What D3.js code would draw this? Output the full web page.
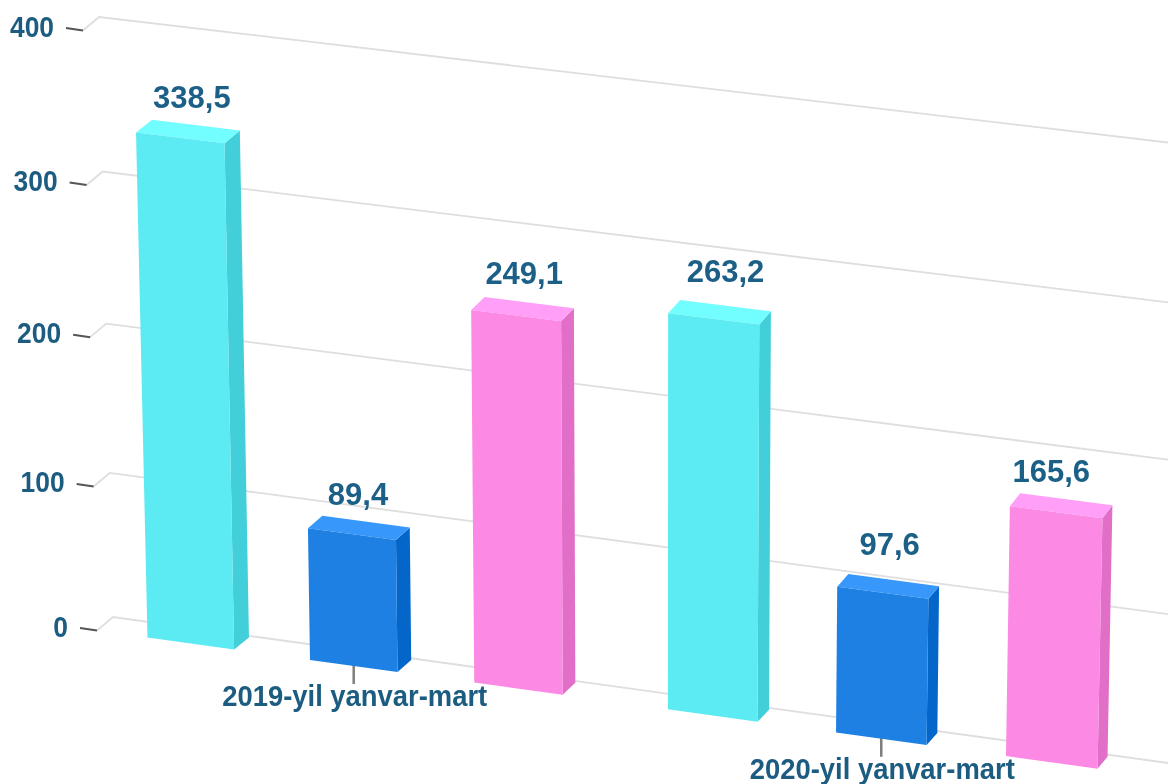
<!DOCTYPE html>
<html><head><meta charset="utf-8">
<script src="https://cdn.jsdelivr.net/npm/d3@7"></script>
<style>html,body{margin:0;padding:0;background:#fff;overflow:hidden}svg{display:block;filter:blur(0.6px)}text{font-family:"Liberation Sans",Arial,sans-serif;font-weight:700}</style>
</head><body><svg id="c" width="1168" height="784"></svg>
<script>
const periods = ["2019-yil yanvar-mart", "2020-yil yanvar-mart"];
const seriesKeys = ["a", "b", "c"];
const valuesA = [338.5, 263.2];
const valuesB = [89.4, 97.6];
const valuesC = [249.1, 165.6];
const tickValues = [0, 100, 200, 300, 400];
const seriesValues = {a: valuesA, b: valuesB, c: valuesC};
const palette = {
  a: {front: "#5CEAF3", side: "#43CFDA", top: "#72FDFF"},
  b: {front: "#1E80E2", side: "#0566CA", top: "#3797FB"},
  c: {front: "#FC8AE4", side: "#E16FC8", top: "#FF9FF8"}
};
// hand placement of the value labels relative to their bars (layout only)
const labelNudge = {a: [[0,0],[4,-7]], b: [[-4,0],[0,-8]], c: [[-1,-2],[-11,0]]};

// projective map of the unit square onto a quad: p00,p10,p01,p11
function homography(p00, p10, p01, p11) {
  const dx1 = p10[0]-p11[0], dx2 = p01[0]-p11[0], sx = p00[0]-p10[0]+p11[0]-p01[0];
  const dy1 = p10[1]-p11[1], dy2 = p01[1]-p11[1], sy = p00[1]-p10[1]+p11[1]-p01[1];
  const den = dx1*dy2-dx2*dy1;
  const g = (sx*dy2-dx2*sy)/den, h = (dx1*sy-sx*dy1)/den;
  const a = p10[0]-p00[0]+g*p10[0], b = p01[0]-p00[0]+h*p01[0], c = p00[0];
  const d = p10[1]-p00[1]+g*p10[1], e = p01[1]-p00[1]+h*p01[1], f = p00[1];
  return (u, t) => { const w = g*u+h*t+1; return [(a*u+b*t+c)/w, (d*u+e*t+f)/w]; };
}

const wall  = homography([113,617],[1168,763],[99,17],[1172,143]);
const front = homography([147.5,637.5],[1100,769],[133.9,38.4],[1112.1,154.3]);
const back  = homography([163,625.5],[1110,757],[150,25.5],[1122,140]);

const yWall = d3.scalePow().exponent(1.02).domain([0,400]).range([0,1]);
const yBar = d3.scaleLinear().domain([0,400]).range([0,1]);
const x0 = d3.scaleBand().domain(periods).range([0,0.9975]).paddingInner(0.1995);
const x1 = d3.scaleBand().domain(seriesKeys).range([0,x0.bandwidth()]).paddingInner(0.4657);
const fmt = d3.formatLocale({decimal:",",thousands:"",grouping:[3],currency:["",""]}).format(".1f");
const line = d3.line();
const svg = d3.select("#c");
const textColor = "#1C6087";

function label(sel, xx, yy, txt, size, sx, anchor, color) {
  sel.append("text").attr("transform",`translate(${xx},${yy}) scale(${sx},1)`)
    .attr("text-anchor",anchor).attr("font-size",size).attr("fill",color||textColor).text(txt);
}

// wall grid, side edge and ticks
const gAxis = svg.append("g");
tickValues.forEach(v => {
  const t = yWall(v), a = wall(0,t), b = wall(1,t);
  const c = [a[0]-16, a[1]+13.5], d = [c[0]-17, c[1]-2.5];
  gAxis.append("path").attr("d",line([c,a,b])).attr("fill","none").attr("stroke","#DEDEDE").attr("stroke-width",1.8);
  gAxis.append("path").attr("d",line([d,c])).attr("fill","none").attr("stroke","#555").attr("stroke-width",2);
  label(gAxis, d[0]-12, d[1]+8.5, String(v), 30, 0.88, "end", "#1B5C80");
});

// category ticks and labels
const gCat = svg.append("g");
periods.forEach(p => {
  const u = x0(p)+x0.bandwidth()/2, b = front(u,0);
  gCat.append("line").attr("x1",b[0]).attr("x2",b[0]).attr("y1",b[1]-6).attr("y2",b[1]+18).attr("stroke","#7E7E7E").attr("stroke-width",2.5);
  label(gCat, b[0]+1, b[1]+40, p, 29, 0.945, "middle", "#1B5C80");
});

// bars
const gBars = svg.append("g");
periods.forEach((p,i) => seriesKeys.forEach(k => {
  const v = seriesValues[k][i], u0 = x0(p)+x1(k), u1 = u0+x1.bandwidth(), t = yBar(v), col = palette[k];
  const poly = (pts,fill) => gBars.append("path").attr("d",line(pts)+"Z").attr("fill",fill);
  poly([front(u1,0),back(u1,0),back(u1,t),front(u1,t)],col.side);
  poly([front(u0,t),back(u0,t),back(u1,t),front(u1,t)],col.top);
  poly([front(u0,0),front(u1,0),front(u1,t),front(u0,t)],col.front);
  const c = back((u0+u1)/2,t), n = labelNudge[k][i];
  label(gBars, c[0]-4+n[0], c[1]-17+n[1], fmt(v), 31, 1, "middle");
}));
</script></body></html>
